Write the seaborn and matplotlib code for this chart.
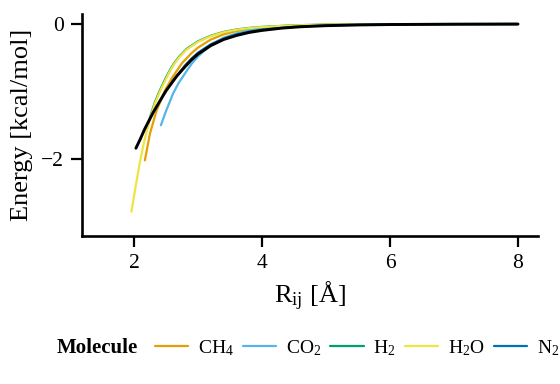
import numpy as np
import pandas as pd
import matplotlib
matplotlib.use("Agg")
import matplotlib.pyplot as plt
import seaborn as sns

# ---- data ----
molecules = ["CH$_4$", "CO$_2$", "H$_2$", "H$_2$O", "N$_2$"]
colors = ["#E69F00", "#56B4E9", "#009E73", "#F0E442", "#0072B2"]

ch4_r = [2.17, 2.25, 2.35, 2.48, 2.6, 2.75, 2.9, 3.0, 3.2, 3.4, 3.6, 3.8, 4.0, 4.5, 5.0, 6.0, 7.0, 8.0]
ch4_e = [-2.02, -1.62, -1.29, -0.99, -0.79, -0.58, -0.43, -0.35, -0.23, -0.155, -0.105, -0.072, -0.05, -0.022, -0.011, -0.004, -0.002, -0.001]

co2_r = [2.42, 2.5, 2.56, 2.61, 2.7, 2.82, 2.9, 3.0, 3.2, 3.4, 3.6, 3.8, 4.0, 4.5, 5.0, 6.0, 7.0, 8.0]
co2_e = [-1.50, -1.29, -1.15, -1.03, -0.87, -0.70, -0.59, -0.48, -0.31, -0.205, -0.14, -0.097, -0.068, -0.03, -0.015, -0.005, -0.002, -0.001]

h2_r = [2.2, 2.27, 2.33, 2.41, 2.48, 2.56, 2.63, 2.7, 2.82, 3.0, 3.2, 3.4, 3.6, 3.8, 4.0, 4.5, 5.0, 6.0, 7.0, 8.0]
h2_e = [-1.56, -1.32, -1.15, -0.97, -0.83, -0.685, -0.577, -0.49, -0.37, -0.257, -0.174, -0.117, -0.082, -0.058, -0.043, -0.019, -0.009, -0.003, -0.001, -0.0005]

h2o_r = [1.96, 2.03, 2.09, 2.15, 2.2, 2.27, 2.33, 2.41, 2.48, 2.56, 2.63, 2.7, 2.82, 3.0, 3.2, 3.4, 3.6, 3.8, 4.0, 4.5, 5.0, 6.0, 7.0, 8.0]
h2o_e = [-2.78, -2.38, -2.06, -1.78, -1.58, -1.34, -1.17, -0.99, -0.85, -0.70, -0.59, -0.50, -0.38, -0.265, -0.18, -0.122, -0.086, -0.061, -0.045, -0.02, -0.01, -0.004, -0.002, -0.001]

n2_r = [2.6, 2.7, 2.8, 2.9, 3.0, 3.2, 3.4, 3.6, 3.8, 4.0, 4.5, 5.0, 6.0, 7.0, 8.0]
n2_e = [-0.85, -0.73, -0.61, -0.51, -0.425, -0.30, -0.215, -0.155, -0.113, -0.083, -0.042, -0.021, -0.006, -0.002, -0.001]

fit_r = [2.03, 2.1, 2.17, 2.3, 2.43, 2.5, 2.6, 2.67, 2.8, 2.9, 3.0, 3.2, 3.4, 3.6, 3.8, 4.0, 4.3, 4.6, 5.0, 5.5, 6.0, 7.0, 8.0]
fit_e = [-1.84, -1.70, -1.55, -1.31, -1.10, -0.99, -0.86, -0.77, -0.63, -0.53, -0.445, -0.32, -0.23, -0.17, -0.125, -0.095, -0.062, -0.041, -0.025, -0.014, -0.008, -0.003, -0.001]

xticks = [2, 4, 6, 8]
yticks = [0, -2]

series = [(ch4_r, ch4_e), (co2_r, co2_e), (h2_r, h2_e), (h2o_r, h2o_e), (n2_r, n2_e)]
frames = []
for name, (r, e) in zip(molecules, series):
    frames.append(pd.DataFrame({"R": r, "E": e, "Molecule": name}))
df = pd.concat(frames, ignore_index=True)
fit_df = pd.DataFrame({"R": fit_r, "E": fit_e})

# ---- style ----
sns.set_theme(style="ticks")
plt.rcParams["font.family"] = ["Liberation Serif", "DejaVu Serif"]
plt.rcParams["mathtext.fontset"] = "custom"
plt.rcParams["mathtext.rm"] = "Liberation Serif"
plt.rcParams["mathtext.it"] = "Liberation Serif:italic"
plt.rcParams["mathtext.bf"] = "Liberation Serif:bold"
for k in ["text.color", "axes.labelcolor", "xtick.color", "ytick.color", "axes.edgecolor"]:
    plt.rcParams[k] = "black"

fig = plt.figure(figsize=(5.6, 3.84), dpi=100)
ax = fig.add_axes([82 / 560, 1 - 236 / 384, (538 - 82) / 560, (236 - 14) / 384])

sns.lineplot(data=df, x="R", y="E", hue="Molecule", hue_order=molecules,
             palette=colors, linewidth=1.6, sort=False, ax=ax)
sns.lineplot(data=fit_df, x="R", y="E", color="black", linewidth=2.1,
             sort=False, ax=ax, legend=False)

ax.set_xlim(1.1875, 8.3125)
ax.set_ylim(-3.14, 0.148)
ax.set_xticks(xticks)
ax.set_yticks(yticks)
ax.set_yticklabels(["0", "\u22122"])
ax.tick_params(labelsize=15.5, width=1.6, length=8, color="black", pad=5)
for s in ["left", "bottom"]:
    ax.spines[s].set_linewidth(1.9)
sns.despine(ax=ax)
ax.set_xlabel("R$_{\\rm ij}$ [Å]", fontsize=19, labelpad=5)
ax.set_ylabel("Energy [kcal/mol]", fontsize=19, labelpad=6)

sns.move_legend(ax, "center left", bbox_to_anchor=(155 / 560, 1 - 348 / 384),
                bbox_transform=fig.transFigure, ncol=5, title=None, frameon=False,
                fontsize=14, handlelength=1.7, handletextpad=0.5,
                columnspacing=0.48, borderaxespad=0, borderpad=0)
leg = ax.get_legend()
for line in leg.get_lines():
    line.set_linewidth(1.6)
fig.text(57 / 560, 1 - 348 / 384, "Molecule", fontsize=15, fontweight="bold",
         ha="left", va="center")

fig.savefig("out.png", dpi=100)
